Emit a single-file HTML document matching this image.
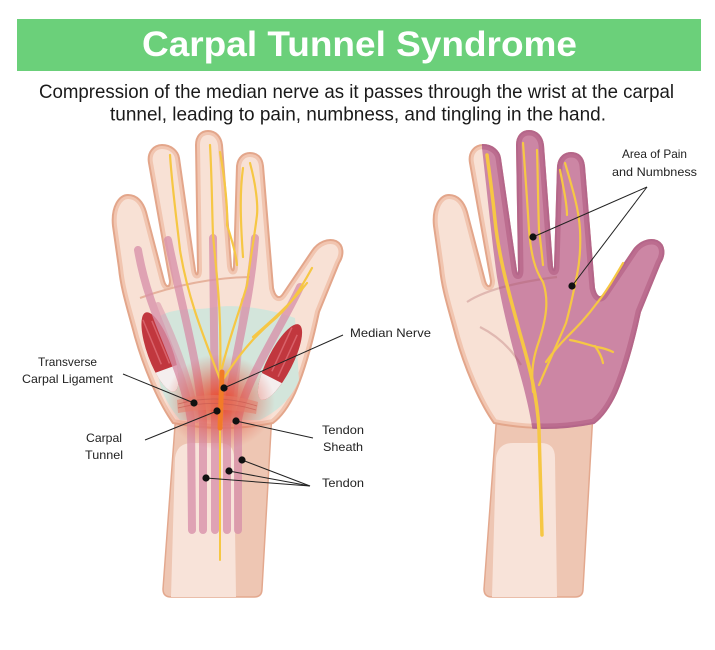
<!DOCTYPE html>
<html><head><meta charset="utf-8">
<style>html,body{margin:0;padding:0;background:#fff}svg{display:block}</style>
</head>
<body>
<svg width="715" height="650" viewBox="0 0 715 650" xmlns="http://www.w3.org/2000/svg" font-family="'Liberation Sans', sans-serif">
<defs>
<path id="hand" d="M173,423 C160,405 145,372 135,337 C128,310 121,290 119,268 L113,226 C111,207 119,195 128,195 C137,195 143,202 146,212 L164,281 C166,288 170,288 170,281 L149,163 C147,152 154,145 162,145 C171,145 178,151 179,158 L195,270 C196,276 198,276 198,270 L196,145 C196,136 201,131 208,131 C216,131 221,137 222,145 L231,266 C232,272 234,272 234,266 L237,166 C238,157 244,153 250,153 C257,153 262,157 263,166 L273,288 C275,297 279,300 283,294 L312,251 C318,242 328,238 336,241 C344,245 344,255 339,263 L319,312 C313,340 305,370 295,393 C288,408 281,417 273,423 Q223,433 173,423 Z"/>
<path id="arm" d="M176,412 L272,412 L262,589 Q262,597 254,597 L171,597 Q163,597 163,589 Z"/>
<clipPath id="hc"><use href="#hand"/></clipPath>
<clipPath id="pc"><path d="M161,100 L161,148 C168,210 172,250 176,277 C181,305 185,320 189,337 C197,370 207,395 214,445 L360,445 L360,100 Z"/></clipPath>
<radialGradient id="glow" cx="0.5" cy="0.5" r="0.5">
<stop offset="0" stop-color="#ee3f1a" stop-opacity="0.95"/>
<stop offset="0.45" stop-color="#e4523a" stop-opacity="0.6"/>
<stop offset="1" stop-color="#e06050" stop-opacity="0"/>
</radialGradient>
<g id="base">
<use href="#arm" fill="#eec6b3" stroke="#e3a88e" stroke-width="1.5"/>
<path d="M171,597 L175,458 Q177,443 192,443 L220,443 Q234,443 234,458 L236,597 Z" fill="#f8e3d9"/>
<use href="#hand" fill="#f8e1d5"/>
<use href="#hand" fill="none" stroke="#f1c5b0" stroke-width="8" clip-path="url(#hc)"/>
<use href="#hand" fill="none" stroke="#e3a68b" stroke-width="2"/>
</g>
</defs>

<!-- Header -->
<rect x="17" y="19" width="684" height="52" fill="#6bd07a"/>
<text x="359.5" y="56" font-weight="bold" font-size="35" fill="#fff" text-anchor="middle" textLength="435" lengthAdjust="spacingAndGlyphs">Carpal Tunnel Syndrome</text>
<text x="39" y="98" font-size="19.5" fill="#1a1a1a" textLength="635" lengthAdjust="spacingAndGlyphs">Compression of the median nerve as it passes through the wrist at the carpal</text>
<text x="110" y="120.5" font-size="19.5" fill="#1a1a1a" textLength="496" lengthAdjust="spacingAndGlyphs">tunnel, leading to pain, numbness, and tingling in the hand.</text>

<!-- LEFT HAND -->
<use href="#base"/>
<g clip-path="url(#hc)">
  <path d="M160,316 C178,306 200,311 215,307 C240,304 270,309 295,318 L299,380 C291,400 276,412 260,420 L180,420 C168,406 160,390 158,375 Z" fill="#d3e5db"/>
  <path d="M140,298 Q195,278 250,277" fill="none" stroke="#e6b29c" stroke-width="2"/>
  <g transform="translate(160,352) rotate(-20)">
    <ellipse rx="12.5" ry="42" fill="#c1373e"/>
    <path d="M-5,-36 L-3,12 M3,-32 L5,14" stroke="#d8626a" stroke-width="1.5"/>
    <path d="M-11.3,18 A12.5,42 0 0 0 11.3,18 Z" fill="#f4eeee"/>
  </g>
  <g transform="translate(280,362) rotate(27)">
    <ellipse rx="12.5" ry="42" fill="#c1373e"/>
    <path d="M-5,-36 L-3,12 M3,-32 L5,14" stroke="#d8626a" stroke-width="1.5"/>
    <path d="M-11.3,18 A12.5,42 0 0 0 11.3,18 Z" fill="#f4eeee"/>
  </g>
</g>
<g fill="none" stroke="#d891aa" stroke-width="8" stroke-linecap="round" opacity="0.78">
  <path d="M138,250 C150,320 182,360 191,420 L192,530"/>
  <path d="M168,240 C180,300 198,360 203,420 L203,530"/>
  <path d="M213,238 L215,420 L215,530"/>
  <path d="M255,238 C250,310 230,370 227,420 L227,530"/>
  <path d="M300,287 C280,330 245,380 238,420 L238,530"/>
  <path d="M158,305 C175,340 190,380 197,420" stroke-width="6" opacity="0.7"/>
  <path d="M244,300 C240,340 236,380 232,420" stroke-width="6" opacity="0.7"/>
</g>
<ellipse cx="220" cy="402" rx="55" ry="48" fill="url(#glow)"/>
<path d="M177,400 Q217,389 258,402 L256,414 Q217,406 178,413 Z" fill="#e47a68" opacity="0.55"/>
<path d="M178,404 Q217,393 257,406 M178,408 Q217,398 256,410" fill="none" stroke="#c65a50" stroke-width="0.8" opacity="0.7"/>
<g fill="none" stroke="#f6c744" stroke-width="2.2" stroke-linecap="round">
  <path d="M170,155 C172,185 176,215 180,250 C188,300 205,340 221,382"/>
  <path d="M210,145 C212,180 212,210 213,235 C216,270 222,310 220,372"/>
  <path d="M220,152 C225,180 228,210 227,225 C232,240 236,255 237,265"/>
  <path d="M250,163 C256,185 258,205 257,215 C254,240 250,260 247,285 C240,310 230,335 222,368"/>
  <path d="M243,168 C240,190 240,215 243,257"/>
  <path d="M312,268 C300,290 290,305 277,317 C262,330 245,345 224,378"/>
  <path d="M307,283 C290,305 270,322 253,337"/>
  <path d="M220,560 L220,425" stroke-width="2"/>
</g>
<path d="M220,428 L222,372" stroke="#f27b27" stroke-width="5" stroke-linecap="round" fill="none"/>

<!-- left labels -->
<g stroke="#222" stroke-width="1" fill="none">
  <line x1="343" y1="335" x2="224" y2="388"/>
  <line x1="123" y1="374" x2="194" y2="403"/>
  <line x1="145" y1="440" x2="217" y2="411"/>
  <line x1="313" y1="438" x2="236" y2="421"/>
  <line x1="310" y1="486" x2="242" y2="460"/>
  <line x1="310" y1="486" x2="229" y2="471"/>
  <line x1="310" y1="486" x2="206" y2="478"/>
</g>
<g fill="#111">
  <circle cx="224" cy="388" r="3.6"/>
  <circle cx="194" cy="403" r="3.6"/>
  <circle cx="217" cy="411" r="3.6"/>
  <circle cx="236" cy="421" r="3.6"/>
  <circle cx="242" cy="460" r="3.6"/>
  <circle cx="229" cy="471" r="3.6"/>
  <circle cx="206" cy="478" r="3.6"/>
</g>
<g font-size="12" fill="#222">
  <text x="350" y="337" textLength="81" lengthAdjust="spacingAndGlyphs">Median Nerve</text>
  <text x="67.5" y="366" text-anchor="middle" textLength="59" lengthAdjust="spacingAndGlyphs">Transverse</text>
  <text x="67.5" y="383" text-anchor="middle" textLength="91" lengthAdjust="spacingAndGlyphs">Carpal Ligament</text>
  <text x="104" y="442" text-anchor="middle" textLength="36" lengthAdjust="spacingAndGlyphs">Carpal</text>
  <text x="104" y="459" text-anchor="middle" textLength="38" lengthAdjust="spacingAndGlyphs">Tunnel</text>
  <text x="343" y="434" text-anchor="middle" textLength="42" lengthAdjust="spacingAndGlyphs">Tendon</text>
  <text x="343" y="451" text-anchor="middle" textLength="40" lengthAdjust="spacingAndGlyphs">Sheath</text>
  <text x="343" y="487" text-anchor="middle" textLength="42" lengthAdjust="spacingAndGlyphs">Tendon</text>
</g>

<!-- RIGHT HAND -->
<g transform="translate(321,0)">
  <use href="#base"/>
  <g clip-path="url(#pc)">
    <use href="#hand" fill="#cc86a4"/>
    <use href="#hand" fill="none" stroke="#bc6d8f" stroke-width="9" clip-path="url(#hc)"/>
    <use href="#hand" fill="none" stroke="#b4668a" stroke-width="2"/>
  </g>
  <g clip-path="url(#hc)" fill="none" stroke="#a85a60" stroke-width="2.2" opacity="0.3">
    <path d="M146,302 Q172,285 236,277"/>
    <path d="M159,327 Q185,340 200,365"/>
  </g>
  <g fill="none" stroke="#f6c744" stroke-width="2.2" stroke-linecap="round">
    <path d="M221,535 L218,430 C216,390 205,355 198,330 C190,300 178,260 174,220 C171,190 168,170 166,155" stroke-width="3.5"/>
    <path d="M202,143 C204,170 206,197 208,230 C210,255 214,270 222,282 C228,300 226,318 216,347 C212,360 210,372 212,392"/>
    <path d="M216,150 C217,180 217,205 218,230 C220,245 221,256 222,265"/>
    <path d="M244,163 C252,190 258,210 259,230 C260,250 258,265 256,275 C252,295 248,312 245,323 C238,340 230,357 218,385"/>
    <path d="M239,170 C243,190 246,205 246,215"/>
    <path d="M302,263 C292,280 285,292 276,303 C265,318 255,328 246,337 C238,345 232,352 225,362"/>
    <path d="M249,340 C260,342 268,345 276,347 C282,348 288,350 292,352"/>
    <path d="M274,346 C278,352 281,357 282,363"/>
  </g>
</g>

<!-- right labels -->
<g stroke="#222" stroke-width="1" fill="none">
  <line x1="647" y1="187" x2="533" y2="237"/>
  <line x1="647" y1="187" x2="572" y2="286"/>
</g>
<g fill="#111">
  <circle cx="533" cy="237" r="3.6"/>
  <circle cx="572" cy="286" r="3.6"/>
</g>
<g font-size="12" fill="#222">
  <text x="654.5" y="158" text-anchor="middle" textLength="65" lengthAdjust="spacingAndGlyphs">Area of Pain</text>
  <text x="654.5" y="176" text-anchor="middle" textLength="85" lengthAdjust="spacingAndGlyphs">and Numbness</text>
</g>
</svg>
</body></html>
